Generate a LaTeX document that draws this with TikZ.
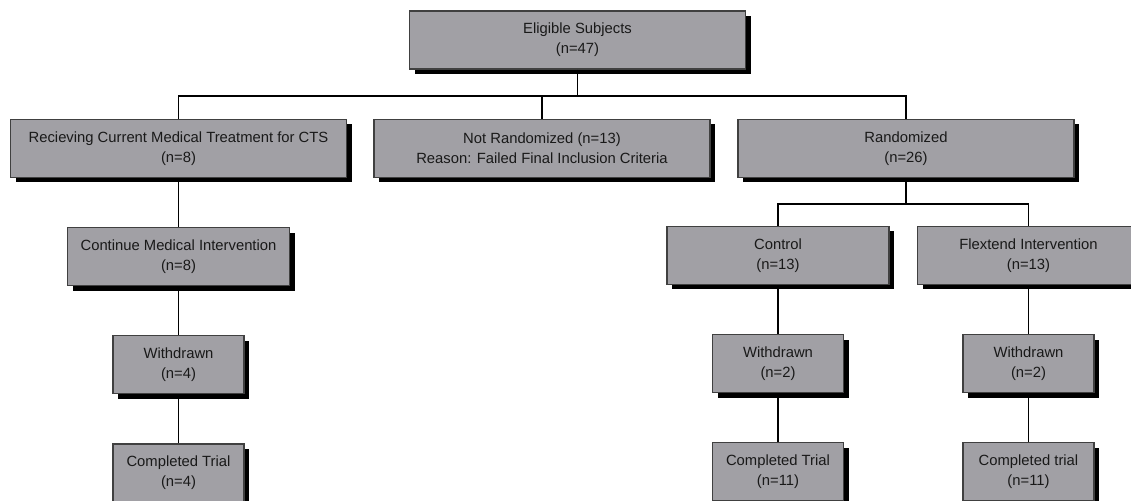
\documentclass[tikz,border=0pt]{standalone}
\usepackage{fontspec}
\setmainfont{Liberation Sans}
\usepackage{tikz}
\usetikzlibrary{positioning,shadows}
\definecolor{boxgray}{RGB}{161,160,165}

\tikzset{
  flowbox/.style={rectangle,draw=black!75,line width=0.6pt,fill=boxgray,
    text=black!90,align=center,inner sep=0pt,minimum height=29pt,
    font=\fontsize{7.4}{10}\selectfont,
    drop shadow={shadow xshift=2.5pt,shadow yshift=-2.5pt,fill=black,opacity=1}},
  wide/.style={flowbox,minimum width=168pt},
  mid/.style={flowbox,minimum width=111pt},
  small/.style={flowbox,minimum width=65.5pt},
  link/.style={draw=black,line width=0.9pt}
}

\begin{document}
\begin{tikzpicture}[x=0.5pt,y=-0.5pt,node distance=24.5pt]
  \useasboundingbox (0,0) rectangle (1131,501);
  \clip (0,0) rectangle (1131,501);
  \node[wide] (elig)    at (577.5,40) {Eligible Subjects\\(n=47)};
  \node[wide] (recv)    at (178.5,148.5) {Recieving Current Medical Treatment for CTS\\(n=8)};
  \node[wide] (notrand) at (542,148.5) {Not Randomized (n=13)\\Reason: Failed Final Inclusion Criteria};
  \node[wide] (rand)    at (906,148.5) {Randomized\\(n=26)};
  \node[mid] (cont) [below=of recv] {Continue Medical Intervention\\(n=8)};
  \node[small] (wdl) [below=of cont] {Withdrawn\\(n=4)};
  \node[small] (cpl) [below=of wdl] {Completed Trial\\(n=4)};
  \node[mid] (ctrl) at (778,255.5) {Control\\(n=13)};
  \node[mid] (flex) at (1028.5,255.5) {Flextend Intervention\\(n=13)};
  \node[small] (wdc) [below=of ctrl] {Withdrawn\\(n=2)};
  \node[small] (wdf) [below=of flex] {Withdrawn\\(n=2)};
  \node[small] (cplc) [below=of wdc] {Completed Trial\\(n=11)};
  \node[small] (cplf) [below=of wdf] {Completed trial\\(n=11)};
  \coordinate (bus1) at (0,96);
  \coordinate (bus2) at (0,204);
%
  \path[link] (elig.south) -- (elig.south |- bus1);
  \path[link] (recv.north) -- (recv.north |- bus1) -- (rand.north |- bus1) -- (rand.north);
  \path[link] (notrand.north) -- (notrand.north |- bus1);
  \path[link] (rand.south) -- (rand.south |- bus2);
  \path[link] (ctrl.north) -- (ctrl.north |- bus2) -- (flex.north |- bus2) -- (flex.north);
  \path[link] (recv) edge (cont) (cont) edge (wdl) (wdl) edge (cpl);
  \path[link] (ctrl) edge (wdc) (wdc) edge (cplc);
  \path[link] (flex) edge (wdf) (wdf) edge (cplf);
%
\end{tikzpicture}
\end{document}
